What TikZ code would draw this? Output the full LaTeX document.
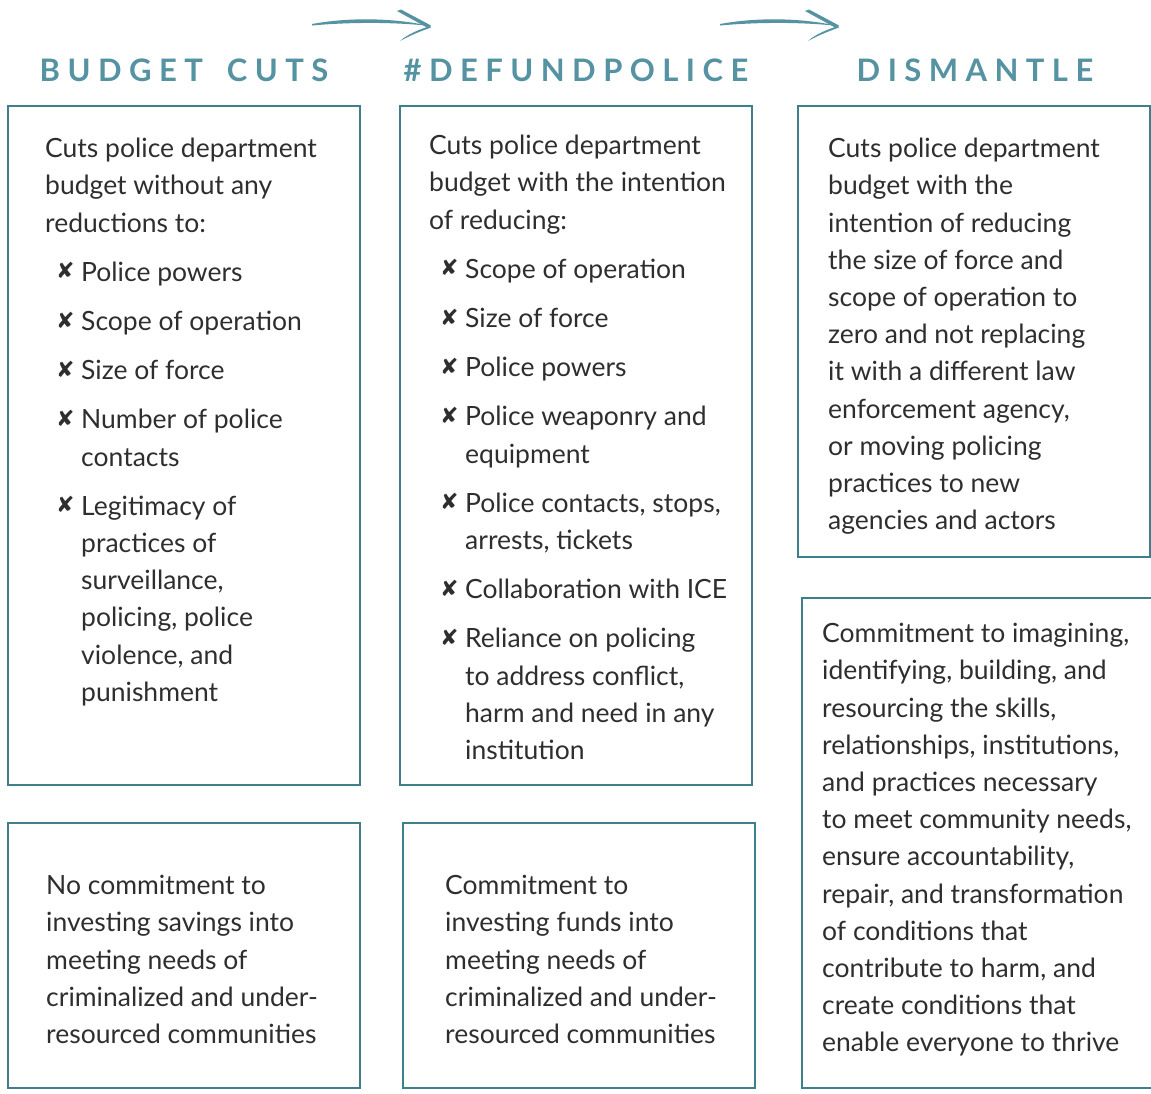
\documentclass[tikz,border=0pt]{standalone}
\usepackage{fontspec}
\setmainfont{Lato}
\newfontfamily\markfont{DejaVu Sans}
\newfontfamily\headfont[LetterSpace=24]{Lato}
\usetikzlibrary{positioning}

\definecolor{headcol}{HTML}{5592A2}
\definecolor{boxcol}{HTML}{3E7F8C}
\definecolor{inkcol}{HTML}{2E2E2E}

\newcommand\xmark{\hspace*{11pt}\makebox[25pt][l]{\raisebox{2.5pt}{\markfont\bfseries\fontsize{22}{22}\selectfont ✘}}}
\newcommand\cont{\hspace*{36pt}}
\newcommand\tstrut{\rule{0pt}{22pt}}

\tikzset{
  frame/.style={draw=boxcol, line width=2.4pt, anchor=north west, inner sep=0pt},
  body/.style={align=left, inner sep=0pt, text=inkcol, font=\fontsize{26.5}{37.2}\selectfont},
  head/.style={anchor=base, inner sep=0pt, text=headcol, font=\headfont\bfseries\fontsize{31}{31}\selectfont},
}

\begin{document}
\begin{tikzpicture}[x=1pt, y=-1pt]
  \useasboundingbox (0, 0) rectangle (1151, 1093);

  % headings
  \node[head] (cutsH) at (184, 81.7) {BUDGET\hspace{9pt} CUTS};
  \node[head] (defundH) at (576, 81.7) {\#DEFUNDPOLICE};
  \node[head] (dismH) at (975, 81.7) {DISMANTLE};

  % brush arrows between the headings
  \foreach \dx in {0, 408} {
    \begin{scope}[xshift=\dx pt, fill=headcol]
      \fill (312, 24) .. controls (350, 17) and (395, 18) .. (430, 26)
            .. controls (395, 22) and (350, 22) .. (312, 25.5) -- cycle;
      \fill (397, 11) -- (401, 9.5) -- (431, 25.5) -- (427, 27.5) -- cycle;
      \fill (430, 26) .. controls (418, 30) and (408, 34) .. (400, 41)
            .. controls (410, 35.5) and (420, 31.5) .. (431, 27.5) -- cycle;
    \end{scope}
  }

  % upper boxes
  \node[frame, minimum width=352pt, minimum height=679pt] (cutsA) at (7, 105) {};
  \node[frame, minimum width=352pt, minimum height=679pt] (defundA) at (399, 105) {};
  \node[frame, minimum width=352pt, minimum height=451pt] (dismA) at (797, 105) {};

  % lower boxes
  \node[frame, minimum width=352pt, minimum height=265pt] (cutsB) at (7, 822) {};
  \node[frame, minimum width=352pt, minimum height=265pt] (defundB) at (402, 822) {};
  \node[frame, minimum width=362pt, minimum height=490pt] (dismB) at (801, 597) {};

  \node[body, below right=30.5pt and 38pt of cutsA.north west] (cutsAtxt) {%
    \tstrut Cuts police department\\
    budget without any\\
    reductions to:\\[12pt]
    \xmark Police powers\\[12pt]
    \xmark Scope of operation\\[12pt]
    \xmark Size of force\\[12pt]
    \xmark Number of police\\
    \cont contacts\\[12pt]
    \xmark Legitimacy of\\
    \cont practices of\\
    \cont surveillance,\\
    \cont policing, police\\
    \cont violence, and\\
    \cont punishment};

  \node[body, below right=27.5pt and 30pt of defundA.north west] (defundAtxt) {%
    \tstrut Cuts police department\\
    budget with the intention\\
    of reducing:\\[12pt]
    \xmark Scope of operation\\[12pt]
    \xmark Size of force\\[12pt]
    \xmark Police powers\\[12pt]
    \xmark Police weaponry and\\
    \cont equipment\\[12pt]
    \xmark Police contacts, stops,\\
    \cont arrests, tickets\\[12pt]
    \xmark Collaboration with ICE\\[12pt]
    \xmark Reliance on policing\\
    \cont to address conflict,\\
    \cont harm and need in any\\
    \cont institution};

  \node[body, below right=30.5pt and 31pt of dismA.north west] (dismAtxt) {%
    \tstrut Cuts police department\\
    budget with the\\
    intention of reducing\\
    the size of force and\\
    scope of operation to\\
    zero and not replacing\\
    it with a different law\\
    enforcement agency,\\
    or moving policing\\
    practices to new\\
    agencies and actors};

  \node[body, below right=50.5pt and 39pt of cutsB.north west] (cutsBtxt) {%
    \tstrut No commitment to\\
    investing savings into\\
    meeting needs of\\
    criminalized and under-\\
    resourced communities};

  \node[body, below right=50.5pt and 43pt of defundB.north west] (defundBtxt) {%
    \tstrut Commitment to\\
    investing funds into\\
    meeting needs of\\
    criminalized and under-\\
    resourced communities};

  \node[body, below right=23.5pt and 21pt of dismB.north west] (dismBtxt) {%
    \tstrut Commitment to imagining,\\
    identifying, building, and\\
    resourcing the skills,\\
    relationships, institutions,\\
    and practices necessary\\
    to meet community needs,\\
    ensure accountability,\\
    repair, and transformation\\
    of conditions that\\
    contribute to harm, and\\
    create conditions that\\
    enable everyone to thrive};
\end{tikzpicture}
\end{document}
